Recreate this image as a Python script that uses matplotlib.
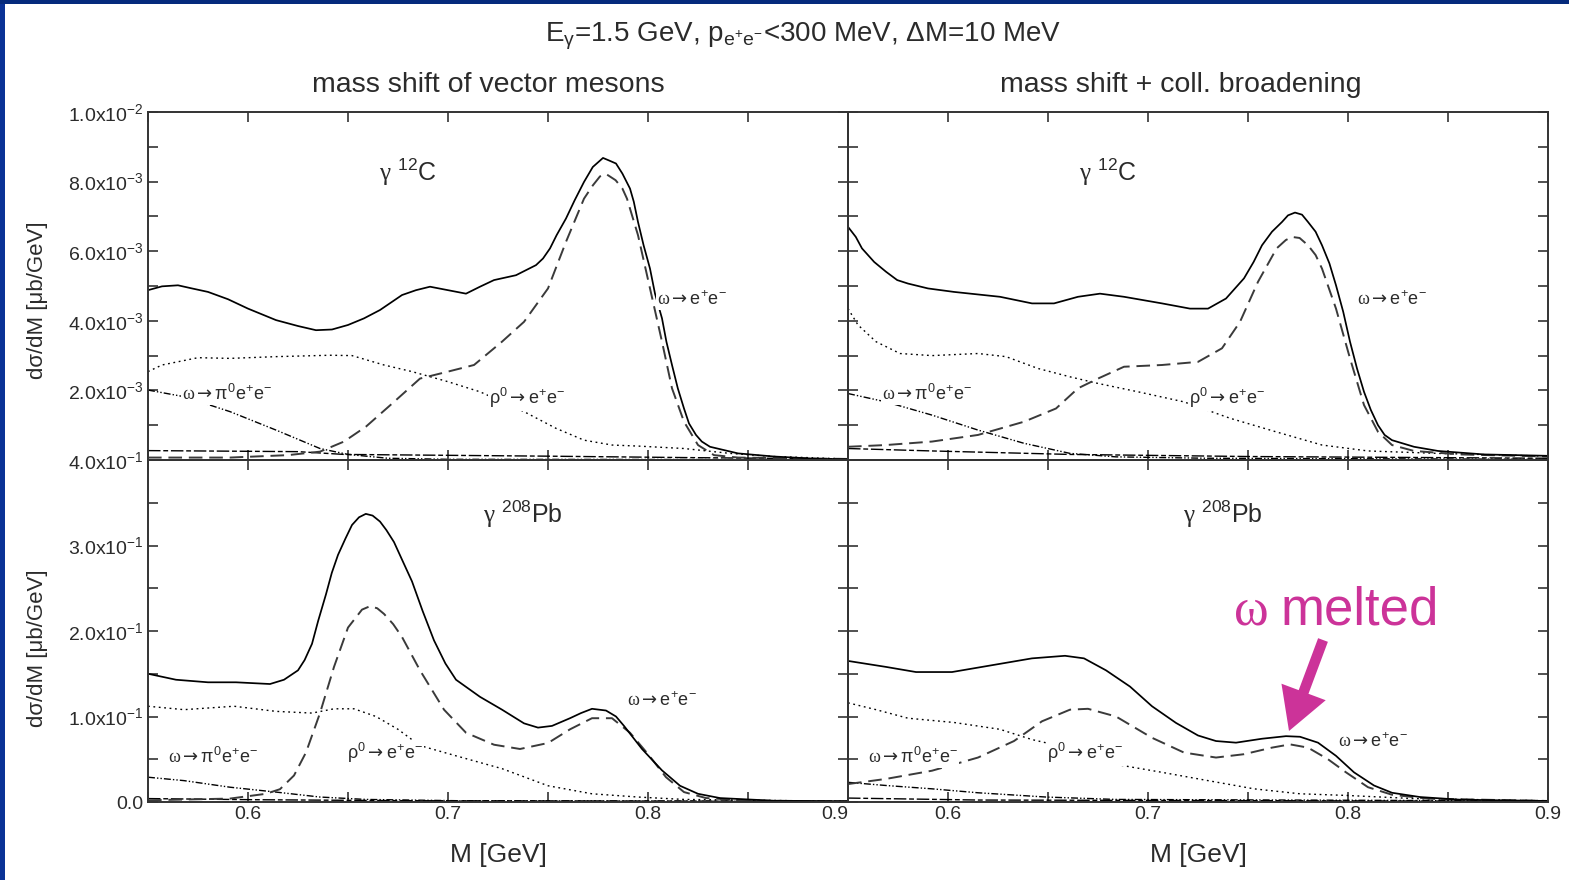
import numpy as np
import matplotlib
matplotlib.use("Agg")
import matplotlib.pyplot as plt
from matplotlib.patches import Rectangle, FancyArrowPatch
from matplotlib.ticker import FixedLocator, FixedFormatter

plt.rcParams['font.family'] = ['Liberation Sans', 'DejaVu Sans']
plt.rcParams['mathtext.fontset'] = 'custom'
plt.rcParams['mathtext.rm'] = 'Liberation Sans'
plt.rcParams['mathtext.it'] = 'Liberation Sans:italic'
plt.rcParams['mathtext.bf'] = 'Liberation Sans:bold'
plt.rcParams['mathtext.cal'] = 'Liberation Serif'
plt.rcParams['mathtext.sf'] = 'DejaVu Sans'
plt.rcParams['mathtext.default'] = 'regular'

# ---------------------------------------------------------------- data
# gamma 12C, mass shift only (values in 1e-3 ub/GeV)
c12_shift_total_m = [0.550, 0.557, 0.565, 0.572, 0.580, 0.590, 0.600, 0.614, 0.625, 0.634,
                     0.642, 0.650, 0.658, 0.666, 0.677, 0.684, 0.691, 0.700, 0.709, 0.716,
                     0.723, 0.734, 0.744, 0.7475, 0.751, 0.7543, 0.759, 0.7633, 0.768, 0.7724,
                     0.7775, 0.7804, 0.784, 0.7872, 0.791, 0.7929, 0.795, 0.7978, 0.801, 0.8035,
                     0.807, 0.8092, 0.812, 0.8149, 0.818, 0.8205, 0.824, 0.8269, 0.831, 0.845,
                     0.863, 0.886, 0.900]
c12_shift_total = [4.88, 4.99, 5.02, 4.93, 4.83, 4.62, 4.35, 4.02, 3.85, 3.73,
                   3.75, 3.88, 4.07, 4.31, 4.74, 4.88, 4.98, 4.88, 4.78, 4.98,
                   5.17, 5.31, 5.60, 5.79, 6.08, 6.46, 6.94, 7.46, 7.99, 8.42,
                   8.68, 8.61, 8.52, 8.23, 7.80, 7.42, 6.84, 6.17, 5.50, 4.78,
                   4.07, 3.40, 2.73, 2.06, 1.48, 1.05, 0.72, 0.53, 0.38, 0.19,
                   0.10, 0.03, 0.02]
c12_shift_omega_m = [0.550, 0.591, 0.620, 0.636, 0.648, 0.659, 0.673, 0.686, 0.700, 0.713,
                     0.727, 0.738, 0.750, 0.759, 0.768, 0.7724, 0.776, 0.779, 0.7838, 0.7872,
                     0.7895, 0.795, 0.801, 0.807, 0.812, 0.818, 0.825, 0.833, 0.845, 0.900]
c12_shift_omega = [0.07, 0.07, 0.14, 0.24, 0.53, 0.96, 1.67, 2.34, 2.54, 2.73,
                   3.40, 3.97, 4.93, 6.27, 7.51, 7.89, 8.15, 8.22, 8.04, 7.80,
                   7.51, 6.46, 4.93, 3.40, 2.06, 1.10, 0.43, 0.14, 0.07, 0.03]
c12_shift_rho_m = [0.550, 0.557, 0.575, 0.591, 0.614, 0.641, 0.652, 0.668, 0.682, 0.700,
                   0.716, 0.738, 0.754, 0.768, 0.782, 0.795, 0.818, 0.841, 0.863, 0.900]
c12_shift_rho = [2.54, 2.73, 2.94, 2.92, 2.97, 3.01, 3.00, 2.73, 2.54, 2.25,
                 1.96, 1.39, 0.91, 0.57, 0.43, 0.40, 0.33, 0.19, 0.10, 0.03]
c12_shift_dalitz_m = [0.550, 0.568, 0.591, 0.614, 0.636, 0.650, 0.670, 0.700, 0.900]
c12_shift_dalitz = [2.01, 1.82, 1.39, 0.86, 0.33, 0.16, 0.05, 0.02, 0.01]
c12_shift_other_m = [0.550, 0.625, 0.648, 0.750, 0.818, 0.900]
c12_shift_other = [0.27, 0.24, 0.16, 0.11, 0.07, 0.03]

# gamma 12C, mass shift + collisional broadening (values in 1e-3 ub/GeV)
c12_broad_total_m = [0.550, 0.5539, 0.557, 0.5631, 0.569, 0.5746, 0.580, 0.590, 0.603, 0.626,
                     0.642, 0.653, 0.665, 0.676, 0.688, 0.707, 0.721, 0.730, 0.739, 0.748,
                     0.7528, 0.757, 0.762, 0.767, 0.770, 0.7735, 0.777, 0.780, 0.7838, 0.787,
                     0.7907, 0.794, 0.7976, 0.801, 0.8045, 0.808, 0.8114, 0.815, 0.8183, 0.822,
                     0.833, 0.845, 0.868, 0.900]
c12_broad_total = [6.70, 6.41, 6.08, 5.69, 5.41, 5.17, 5.07, 4.93, 4.83, 4.69,
                   4.50, 4.50, 4.69, 4.78, 4.69, 4.50, 4.35, 4.35, 4.64, 5.22,
                   5.69, 6.17, 6.56, 6.84, 7.03, 7.11, 7.05, 6.84, 6.56, 6.17,
                   5.65, 5.02, 4.26, 3.40, 2.63, 1.96, 1.44, 1.00, 0.72, 0.57,
                   0.38, 0.26, 0.16, 0.12]
c12_broad_omega_m = [0.550, 0.569, 0.592, 0.615, 0.638, 0.654, 0.665, 0.675, 0.688, 0.707,
                     0.725, 0.737, 0.746, 0.755, 0.7643, 0.7689, 0.772, 0.7758, 0.780, 0.7838,
                     0.787, 0.794, 0.801, 0.808, 0.815, 0.822, 0.833, 0.856, 0.900]
c12_broad_omega = [0.38, 0.43, 0.53, 0.72, 1.10, 1.48, 2.06, 2.34, 2.68, 2.73,
                   2.82, 3.21, 3.97, 5.12, 6.08, 6.32, 6.41, 6.38, 6.17, 5.89,
                   5.50, 4.35, 2.92, 1.58, 0.81, 0.43, 0.26, 0.16, 0.10]
c12_broad_rho_m = [0.550, 0.555, 0.564, 0.576, 0.592, 0.615, 0.629, 0.645, 0.661, 0.675,
                   0.695, 0.718, 0.741, 0.764, 0.787, 0.810, 0.845, 0.900]
c12_broad_rho = [4.35, 3.88, 3.40, 3.06, 3.00, 3.06, 2.97, 2.63, 2.39, 2.20,
                 1.96, 1.67, 1.20, 0.81, 0.43, 0.26, 0.19, 0.11]
c12_broad_dalitz_m = [0.550, 0.569, 0.592, 0.615, 0.638, 0.661, 0.684, 0.730, 0.900]
c12_broad_dalitz = [1.91, 1.67, 1.29, 0.86, 0.48, 0.19, 0.09, 0.05, 0.02]
c12_broad_other_m = [0.550, 0.592, 0.661, 0.750, 0.900]
c12_broad_other = [0.33, 0.26, 0.16, 0.10, 0.05]

# gamma 208Pb, mass shift only (ub/GeV)
pb_shift_total_m = [0.550, 0.564, 0.580, 0.594, 0.611, 0.618, 0.625, 0.6283, 0.632, 0.6351,
                    0.639, 0.6419, 0.645, 0.6487, 0.652, 0.6555, 0.6589, 0.6623, 0.666, 0.6692,
                    0.673, 0.6771, 0.682, 0.6873, 0.693, 0.6987, 0.704, 0.716, 0.727, 0.738,
                    0.745, 0.752, 0.761, 0.7665, 0.772, 0.779, 0.784, 0.788, 0.797, 0.807,
                    0.816, 0.825, 0.836, 0.863, 0.900]
pb_shift_total = [0.150, 0.143, 0.140, 0.140, 0.138, 0.143, 0.154, 0.166, 0.185, 0.212,
                  0.243, 0.268, 0.289, 0.308, 0.324, 0.333, 0.337, 0.335, 0.328, 0.318,
                  0.304, 0.283, 0.258, 0.2235, 0.189, 0.162, 0.143, 0.123, 0.108, 0.092,
                  0.087, 0.089, 0.098, 0.104, 0.109, 0.107, 0.100, 0.089, 0.062, 0.037,
                  0.019, 0.0096, 0.0046, 0.0015, 0.0008]
pb_shift_omega_m = [0.550, 0.591, 0.609, 0.616, 0.623, 0.629, 0.636, 0.643, 0.650, 0.657,
                    0.661, 0.6646, 0.668, 0.6726, 0.677, 0.686, 0.698, 0.709, 0.723, 0.736,
                    0.750, 0.761, 0.772, 0.782, 0.791, 0.800, 0.809, 0.818, 0.829, 0.852,
                    0.900]
pb_shift_omega = [0.002, 0.004, 0.0096, 0.015, 0.031, 0.058, 0.104, 0.158, 0.204, 0.225,
                  0.229, 0.2266, 0.220, 0.208, 0.193, 0.154, 0.108, 0.081, 0.067, 0.062,
                  0.069, 0.085, 0.098, 0.098, 0.081, 0.056, 0.029, 0.0116, 0.0046, 0.0015,
                  0.0008]
pb_shift_rho_m = [0.550, 0.568, 0.593, 0.614, 0.632, 0.643, 0.653, 0.664, 0.675, 0.686,
                  0.704, 0.727, 0.750, 0.772, 0.795, 0.818, 0.900]
pb_shift_rho = [0.112, 0.108, 0.112, 0.106, 0.104, 0.109, 0.109, 0.100, 0.085, 0.066,
                0.054, 0.039, 0.019, 0.0096, 0.0058, 0.003, 0.0008]
pb_shift_dalitz_m = [0.550, 0.568, 0.591, 0.614, 0.636, 0.659, 0.705, 0.900]
pb_shift_dalitz = [0.029, 0.025, 0.0173, 0.0116, 0.0058, 0.003, 0.0015, 0.0008]
pb_shift_other_m = [0.550, 0.602, 0.682, 0.900]
pb_shift_other = [0.004, 0.0027, 0.0015, 0.0008]

# gamma 208Pb, mass shift + collisional broadening (ub/GeV)
pb_broad_total_m = [0.550, 0.569, 0.584, 0.602, 0.622, 0.642, 0.6585, 0.668, 0.679, 0.691,
                    0.702, 0.714, 0.725, 0.734, 0.744, 0.757, 0.769, 0.776, 0.785, 0.794,
                    0.803, 0.813, 0.822, 0.836, 0.856, 0.900]
pb_broad_total = [0.165, 0.158, 0.152, 0.152, 0.160, 0.168, 0.171, 0.168, 0.154, 0.135,
                  0.112, 0.0925, 0.0778, 0.0713, 0.0694, 0.074, 0.077, 0.0763, 0.0694, 0.054,
                  0.0347, 0.0193, 0.0108, 0.0058, 0.0027, 0.0012]
pb_broad_omega_m = [0.550, 0.569, 0.592, 0.615, 0.633, 0.647, 0.661, 0.670, 0.684, 0.702,
                    0.718, 0.734, 0.748, 0.762, 0.771, 0.780, 0.790, 0.799, 0.810, 0.822,
                    0.840, 0.900]
pb_broad_omega = [0.021, 0.027, 0.0366, 0.052, 0.0713, 0.0944, 0.108, 0.109, 0.100, 0.0751,
                  0.0578, 0.052, 0.0559, 0.0636, 0.0674, 0.0636, 0.050, 0.0347, 0.0173, 0.0085,
                  0.0039, 0.0012]
pb_broad_rho_m = [0.550, 0.564, 0.580, 0.603, 0.626, 0.642, 0.656, 0.679, 0.707, 0.730,
                  0.753, 0.776, 0.799, 0.834, 0.900]
pb_broad_rho = [0.116, 0.108, 0.098, 0.093, 0.085, 0.073, 0.0655, 0.046, 0.0347, 0.025,
                0.0154, 0.0096, 0.0077, 0.0039, 0.0015]
pb_broad_dalitz_m = [0.550, 0.569, 0.592, 0.615, 0.649, 0.684, 0.900]
pb_broad_dalitz = [0.023, 0.0193, 0.0154, 0.0108, 0.0058, 0.003, 0.0012]
pb_broad_other_m = [0.550, 0.615, 0.900]
pb_broad_other = [0.0046, 0.0023, 0.0008]

x_ticks = [0.55, 0.60, 0.65, 0.70, 0.75, 0.80, 0.85, 0.90]
x_tick_labels = ['', '0.6', '', '0.7', '', '0.8', '', '0.9']
c12_y_ticks = [0.0, 0.001, 0.002, 0.003, 0.004, 0.005, 0.006, 0.007, 0.008, 0.009, 0.010]
c12_y_labels = ['', '', r'2.0x10$^{-3}$', '', r'4.0x10$^{-3}$', '', r'6.0x10$^{-3}$', '',
                r'8.0x10$^{-3}$', '', r'1.0x10$^{-2}$']
pb_y_ticks = [0.0, 0.05, 0.10, 0.15, 0.20, 0.25, 0.30, 0.35, 0.40]
pb_y_labels = ['0.0', '', r'1.0x10$^{-1}$', '', r'2.0x10$^{-1}$', '', r'3.0x10$^{-1}$', '',
               r'4.0x10$^{-1}$']

# ---------------------------------------------------------------- figure
W, H = 1569, 880
fig = plt.figure(figsize=(W / 100, H / 100), dpi=100)
fig.patch.set_facecolor('white')

# slide frame (left and top strips)
fig.add_artist(Rectangle((0, 0), 5 / W, 1, transform=fig.transFigure,
                         facecolor='#0a3296', edgecolor='none', zorder=0))
fig.add_artist(Rectangle((0, 1 - 4 / H), 1, 4 / H, transform=fig.transFigure,
                         facecolor='#052a7c', edgecolor='none', zorder=0))


def fbox(x0, y0, x1, y1):
    return [x0 / W, 1 - y1 / H, (x1 - x0) / W, (y1 - y0) / H]


TXT = '#2b2b2b'
ax_tl = fig.add_axes(fbox(148, 112, 848, 460))
ax_tr = fig.add_axes(fbox(848, 112, 1548, 460))
ax_bl = fig.add_axes(fbox(148, 460, 848, 802))
ax_br = fig.add_axes(fbox(848, 460, 1548, 802))

styles = {
    'total': dict(color='black', lw=1.25, ls='-'),
    'omega': dict(color='#3a3a3a', lw=1.4, ls=(0, (7, 3.5))),
    'rho': dict(color='black', lw=1.0, ls=(0, (1.3, 2.6))),
    'dalitz': dict(color='black', lw=1.0, ls=(0, (5, 1.5, 1, 1.5, 1, 1.5))),
    'other': dict(color='black', lw=1.0, ls=(0, (9, 2, 3.5, 2))),
}


def style_axes(ax, yticks, ylabels, ylim, show_x, show_y):
    ax.set_xlim(0.55, 0.90)
    ax.set_ylim(*ylim)
    ax.xaxis.set_major_locator(FixedLocator(x_ticks))
    ax.xaxis.set_major_formatter(FixedFormatter(x_tick_labels if show_x else [''] * len(x_ticks)))
    ax.yaxis.set_major_locator(FixedLocator(yticks))
    ax.yaxis.set_major_formatter(FixedFormatter(ylabels if show_y else [''] * len(yticks)))
    ax.tick_params(direction='in', top=True, right=True, length=7, width=1.2,
                   color='#333333', labelsize=14, labelcolor=TXT, pad=3)
    for sp in ax.spines.values():
        sp.set_color('#333333')
        sp.set_linewidth(1.4)
    ax.patch.set_alpha(0)


def draw(ax, scale, total, omega, rho, dalitz, other):
    for key, (m, v) in zip(['other', 'dalitz', 'rho', 'omega', 'total'],
                           [other, dalitz, rho, omega, total]):
        ax.plot(m, np.asarray(v) * scale, clip_on=True, **styles[key])


def channel_label(ax, x, y, s, size=13):
    ax.text(x, y, s, ha='center', va='center', fontsize=size, color=TXT,
            bbox=dict(facecolor='white', edgecolor='none', pad=0.5), zorder=5)


draw(ax_tl, 1e-3, (c12_shift_total_m, c12_shift_total), (c12_shift_omega_m, c12_shift_omega),
     (c12_shift_rho_m, c12_shift_rho), (c12_shift_dalitz_m, c12_shift_dalitz),
     (c12_shift_other_m, c12_shift_other))
draw(ax_tr, 1e-3, (c12_broad_total_m, c12_broad_total), (c12_broad_omega_m, c12_broad_omega),
     (c12_broad_rho_m, c12_broad_rho), (c12_broad_dalitz_m, c12_broad_dalitz),
     (c12_broad_other_m, c12_broad_other))
draw(ax_bl, 1.0, (pb_shift_total_m, pb_shift_total), (pb_shift_omega_m, pb_shift_omega),
     (pb_shift_rho_m, pb_shift_rho), (pb_shift_dalitz_m, pb_shift_dalitz),
     (pb_shift_other_m, pb_shift_other))
draw(ax_br, 1.0, (pb_broad_total_m, pb_broad_total), (pb_broad_omega_m, pb_broad_omega),
     (pb_broad_rho_m, pb_broad_rho), (pb_broad_dalitz_m, pb_broad_dalitz),
     (pb_broad_other_m, pb_broad_other))

style_axes(ax_tl, c12_y_ticks, c12_y_labels, (0, 0.01), False, True)
style_axes(ax_tr, c12_y_ticks, c12_y_labels, (0, 0.01), False, False)
style_axes(ax_bl, pb_y_ticks, pb_y_labels, (0, 0.4), True, True)
style_axes(ax_br, pb_y_ticks, pb_y_labels, (0, 0.4), True, False)

# the last label of the left column sits just left of the panel seam
ax_bl.get_xticklabels()[-1].set_horizontalalignment('right')

ARROW = r'$\mathsf{\rightarrow}$'
lbl_omega = r'$\mathcal{\omega}$' + ARROW + r'e$^{+}$e$^{-}$'
lbl_rho = r'ρ$^{0}$' + ARROW + r'e$^{+}$e$^{-}$'
lbl_dalitz = r'$\mathcal{\omega}$' + ARROW + r'π$^{0}$e$^{+}$e$^{-}$'

for ax in (ax_tl, ax_tr):
    ax.text(0.68, 8.28e-3, r'$\mathcal{\gamma}$ $^{12}$C', ha='center', va='center',
            fontsize=18, color=TXT)
    channel_label(ax, 0.822, 4.6e-3, lbl_omega)
    channel_label(ax, 0.7395, 1.78e-3, lbl_rho)
    channel_label(ax, 0.5895, 1.9e-3, lbl_dalitz)

for ax in (ax_bl, ax_br):
    ax.text(0.7375, 0.336, r'$\mathcal{\gamma}$ $^{208}$Pb', ha='center', va='center',
            fontsize=18, color=TXT)
    channel_label(ax, 0.6685, 0.0573, lbl_rho)
    channel_label(ax, 0.5825, 0.0526, lbl_dalitz)
channel_label(ax_bl, 0.807, 0.119, lbl_omega)
channel_label(ax_br, 0.8125, 0.0702, lbl_omega)

# headers
fig.text(803 / W, 1 - 36 / H, r'E$_{\gamma}$=1.5 GeV, p$_{e^{+}e^{-}}$<300 MeV, ΔM=10 MeV',
         ha='center', va='center', fontsize=20, color=TXT)
fig.text(488 / W, 1 - 85 / H, 'mass shift of vector mesons', ha='center', va='center',
         fontsize=20.5, color=TXT)
fig.text(1181 / W, 1 - 85 / H, 'mass shift + coll. broadening', ha='center', va='center',
         fontsize=20.5, color=TXT)

# axis titles
for yc in (300, 648):
    fig.text(38 / W, 1 - yc / H, 'dσ/dM [μb/GeV]', rotation=90, ha='center', va='center',
             fontsize=16, color=TXT)
for xc in (498, 1198):
    fig.text(xc / W, 1 - 855 / H, 'M [GeV]', ha='center', va='center', fontsize=19, color=TXT)

# annotation of the broadened omega peak
MAG = '#cc3399'
fig.text(1251 / W, 1 - 624 / H, 'ω', ha='center', va='baseline', fontsize=38,
         family='Liberation Serif', color=MAG)
fig.text(1281 / W, 1 - 624 / H, 'melted', ha='left', va='baseline', fontsize=38, color=MAG)
arrow = FancyArrowPatch((1323 / W, 1 - 640 / H), (1289 / W, 1 - 731 / H),
                        transform=fig.transFigure,
                        arrowstyle='simple,head_length=30,head_width=34,tail_width=7.5',
                        mutation_scale=1, color=MAG, lw=0, shrinkA=0, shrinkB=0)
fig.add_artist(arrow)

fig.savefig('out.png', dpi=100, facecolor='white')
